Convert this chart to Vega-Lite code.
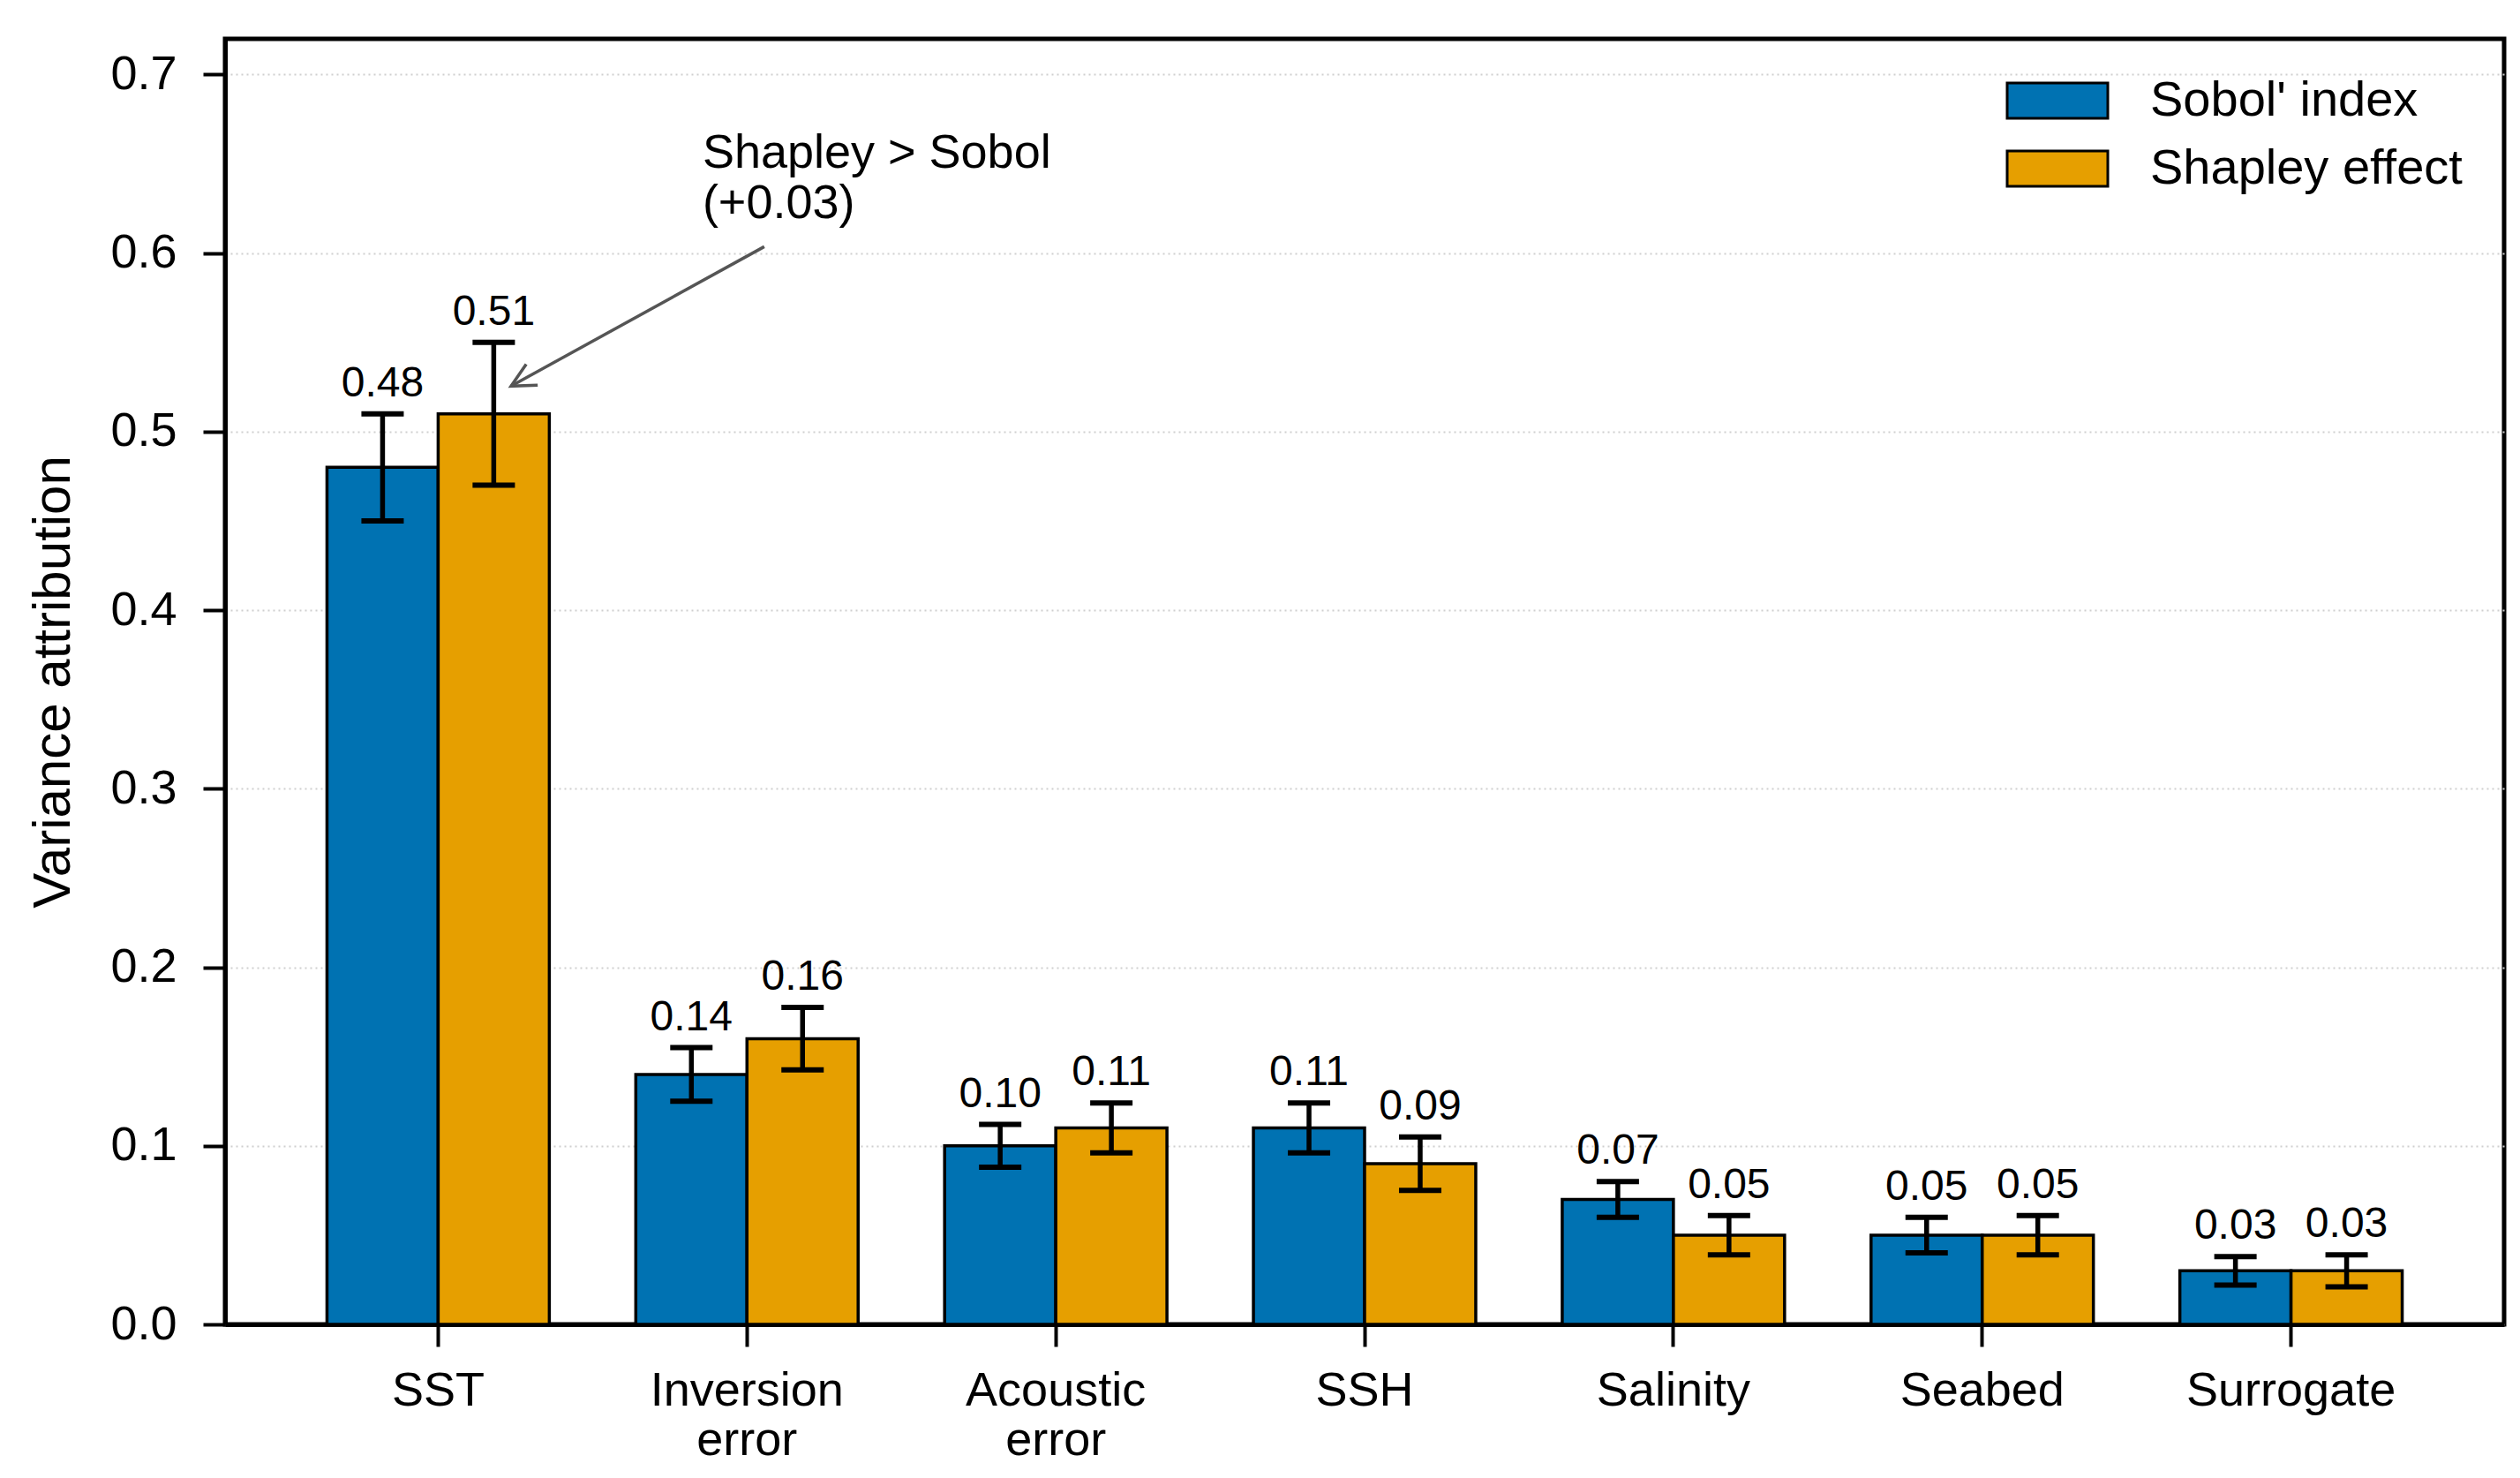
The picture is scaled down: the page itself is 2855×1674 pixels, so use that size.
{
  "$schema": "https://vega.github.io/schema/vega-lite/v6.json",
  "width": 2582,
  "height": 1456,
  "autosize": {"type": "none"},
  "padding": {"left": 255, "top": 44, "right": 18, "bottom": 174},
  "background": "white",
  "config": {
    "font": "Liberation Sans",
    "view": {"stroke": "black", "strokeWidth": 5},
    "axis": {
      "domainColor": "black",
      "domainWidth": 5,
      "tickColor": "black",
      "tickWidth": 4,
      "tickSize": 25,
      "labelColor": "black",
      "labelFont": "Liberation Sans",
      "labelFontSize": 54,
      "labelLimit": 600,
      "titleFont": "Liberation Sans",
      "titleFontSize": 60,
      "titleFontWeight": "normal",
      "titleColor": "black"
    },
    "legend": {
      "padding": 0,
      "labelFont": "Liberation Sans",
      "labelFontSize": 56,
      "labelColor": "black",
      "labelLimit": 800,
      "labelOffset": 75,
      "rowPadding": 19,
      "symbolType": "M-2,-0.7L2,-0.7L2,0.7L-2,0.7Z",
      "symbolSize": 3249,
      "symbolStrokeColor": "black",
      "symbolStrokeWidth": 3,
      "symbolOpacity": 1
    }
  },
  "datasets": {
    "attribution": [
      {"factor": "SST", "method": "Sobol' index", "value": 0.48, "lo": 0.45, "hi": 0.51},
      {"factor": "SST", "method": "Shapley effect", "value": 0.51, "lo": 0.47, "hi": 0.55},
      {"factor": "Inversion error", "method": "Sobol' index", "value": 0.14, "lo": 0.125, "hi": 0.155},
      {"factor": "Inversion error", "method": "Shapley effect", "value": 0.16, "lo": 0.1425, "hi": 0.1775},
      {"factor": "Acoustic error", "method": "Sobol' index", "value": 0.10, "lo": 0.088, "hi": 0.112},
      {"factor": "Acoustic error", "method": "Shapley effect", "value": 0.11, "lo": 0.096, "hi": 0.124},
      {"factor": "SSH", "method": "Sobol' index", "value": 0.11, "lo": 0.096, "hi": 0.124},
      {"factor": "SSH", "method": "Shapley effect", "value": 0.09, "lo": 0.075, "hi": 0.105},
      {"factor": "Salinity", "method": "Sobol' index", "value": 0.07, "lo": 0.06, "hi": 0.08},
      {"factor": "Salinity", "method": "Shapley effect", "value": 0.05, "lo": 0.039, "hi": 0.061},
      {"factor": "Seabed", "method": "Sobol' index", "value": 0.05, "lo": 0.04, "hi": 0.06},
      {"factor": "Seabed", "method": "Shapley effect", "value": 0.05, "lo": 0.039, "hi": 0.061},
      {"factor": "Surrogate", "method": "Sobol' index", "value": 0.03, "lo": 0.022, "hi": 0.038},
      {"factor": "Surrogate", "method": "Shapley effect", "value": 0.03, "lo": 0.021, "hi": 0.039}
    ],
    "arrow": [
      {"from_pos": 1.056, "from_val": 0.6036, "to_pos": 0.2361, "to_val": 0.5255}
    ],
    "note": [
      {"pos": 0.856, "val": 0.6478, "label": "Shapley > Sobol\n(+0.03)"}
    ]
  },
  "layer": [
    {
      "data": {"name": "attribution"},
      "encoding": {
        "x": {
          "field": "factor",
          "type": "nominal",
          "sort": ["SST", "Inversion error", "Acoustic error", "SSH", "Salinity", "Seabed", "Surrogate"],
          "scale": {"paddingInner": 0.28, "paddingOuter": 0.33},
          "axis": {
            "title": null,
            "labelAngle": 0,
            "labelPadding": 23,
            "labelExpr": "split(datum.label, ' ')",
            "labelLineHeight": 56,
            "grid": false
          }
        },
        "xOffset": {
          "field": "method",
          "type": "nominal",
          "sort": ["Sobol' index", "Shapley effect"],
          "scale": {"paddingInner": 0, "paddingOuter": 0}
        }
      },
      "layer": [
        {
          "mark": {"type": "bar", "stroke": "black", "strokeWidth": 3.5, "opacity": 1},
          "encoding": {
            "y": {
              "field": "value",
              "type": "quantitative",
              "title": "Variance attribution",
              "scale": {"domain": [0, 0.72], "nice": false, "zero": true},
              "axis": {
                "values": [0, 0.1, 0.2, 0.3, 0.4, 0.5, 0.6, 0.7],
                "format": ".1f",
                "labelPadding": 30,
                "titlePadding": 33,
                "grid": true,
                "gridColor": "#cfcfcf",
                "gridDash": [2, 4],
                "gridWidth": 2
              }
            },
            "fill": {
              "field": "method",
              "type": "nominal",
              "sort": ["Sobol' index", "Shapley effect"],
              "scale": {"domain": ["Sobol' index", "Shapley effect"], "range": ["#0072B2", "#E69F00"]},
              "legend": {"title": null, "orient": "none", "legendX": 2046, "legendY": 40}
            }
          }
        },
        {
          "mark": {"type": "rule", "color": "black", "strokeWidth": 5.5},
          "encoding": {
            "y": {"field": "lo", "type": "quantitative", "title": "Variance attribution"},
            "y2": {"field": "hi"}
          }
        },
        {
          "mark": {"type": "tick", "color": "black", "size": 48, "thickness": 6, "opacity": 1},
          "encoding": {
            "y": {"field": "lo", "type": "quantitative", "title": "Variance attribution"}
          }
        },
        {
          "mark": {"type": "tick", "color": "black", "size": 48, "thickness": 6, "opacity": 1},
          "encoding": {
            "y": {"field": "hi", "type": "quantitative", "title": "Variance attribution"}
          }
        },
        {
          "mark": {"type": "text", "dy": -20, "baseline": "alphabetic", "align": "center", "fontSize": 48, "color": "black"},
          "encoding": {
            "y": {"field": "hi", "type": "quantitative", "title": "Variance attribution"},
            "text": {"field": "value", "type": "quantitative", "format": ".2f"}
          }
        }
      ]
    },
    {
      "layer": [
        {
          "data": {"name": "arrow"},
          "mark": {"type": "rule", "color": "#555555", "strokeWidth": 3.5},
          "encoding": {
            "x": {"field": "from_pos", "type": "quantitative", "scale": {"domain": [-0.69, 6.69], "nice": false, "zero": false}, "axis": null},
            "y": {"field": "from_val", "type": "quantitative", "title": "Variance attribution"},
            "x2": {"field": "to_pos"},
            "y2": {"field": "to_val"}
          }
        },
        {
          "data": {"name": "arrow"},
          "mark": {"type": "point", "shape": "M-1,-0.5L0,0L-1,0.5", "size": 2916, "angle": 151.2, "filled": false, "stroke": "#555555", "strokeWidth": 3.5, "opacity": 1},
          "encoding": {
            "x": {"field": "to_pos", "type": "quantitative", "axis": null},
            "y": {"field": "to_val", "type": "quantitative", "title": "Variance attribution"}
          }
        },
        {
          "data": {"name": "note"},
          "mark": {"type": "text", "align": "left", "baseline": "alphabetic", "fontSize": 54, "lineBreak": "\n", "lineHeight": 57, "color": "black"},
          "encoding": {
            "x": {"field": "pos", "type": "quantitative", "axis": null},
            "y": {"field": "val", "type": "quantitative", "title": "Variance attribution"},
            "text": {"field": "label"}
          }
        }
      ]
    }
  ],
  "resolve": {"scale": {"x": "independent"}}
}
